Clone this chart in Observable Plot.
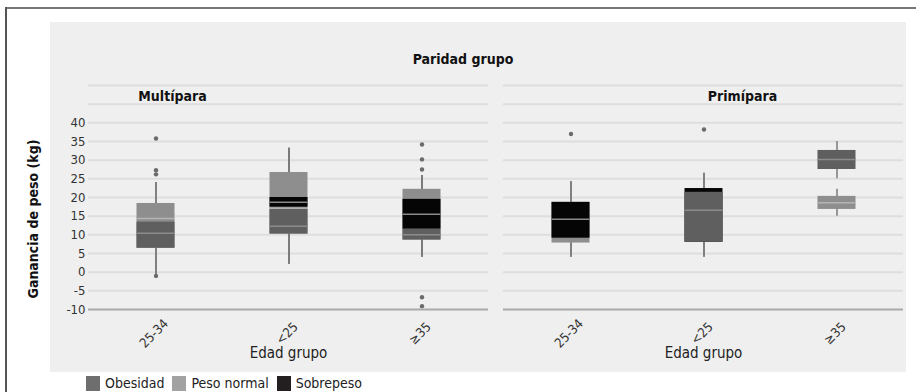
<!DOCTYPE html>
<html>
<head>
<meta charset="utf-8">
<script src="https://cdn.jsdelivr.net/npm/d3@7"></script>
<script src="https://cdn.jsdelivr.net/npm/@observablehq/plot@0.6"></script>
<style>
  html, body { margin: 0; padding: 0; background: #fff; }
  body { font-family: "Liberation Sans Narrow", "DejaVu Sans Condensed", "Roboto", sans-serif; font-stretch: condensed; }
  #wrap { position: relative; width: 916px; height: 392px; overflow: hidden; background: #fff; }
  #topline { position: absolute; left: 6px; top: 7px; width: 910px; height: 2px; background: #777; }
  #leftline { position: absolute; left: 5px; top: 7px; width: 2px; height: 385px; background: #555; }
  #panel { position: absolute; left: 50px; top: 22px; width: 856px; height: 350px; background: #efefef; }
  #chart { position: absolute; left: 0; top: 0; }
  #title { position: absolute; left: 0; width: 926px; top: 51px; text-align: center; font-weight: bold; font-size: 14px; color: #111; }
  #ytitle { position: absolute; left: 33px; top: 219px; transform: translate(-50%, -50%) rotate(-90deg); white-space: nowrap; font-weight: bold; font-size: 14px; color: #111; }
  #legend { position: absolute; left: 86px; top: 375px; display: flex; align-items: center; font-size: 14px; line-height: 16px; color: #222; white-space: nowrap; }
  #legend .item { display: flex; align-items: center; margin-right: 8px; }
  #legend .sw { width: 14px; height: 15px; margin-right: 5px; }
</style>
</head>
<body>
<div id="wrap">
  <div id="topline"></div>
  <div id="leftline"></div>
  <div id="panel"></div>
  <div id="chart"></div>
  <div id="title">Paridad grupo</div>
  <div id="ytitle">Ganancia de peso (kg)</div>
  <div id="legend"></div>
</div>
<script>
// ---- data ----
const panels = ["Multípara", "Primípara"];
const ages = ["25-34", "<25", "≥35"];
const groups = ["Obesidad", "Peso normal", "Sobrepeso"];
const yTicks = [-10, -5, 0, 5, 10, 15, 20, 25, 30, 35, 40];
const gridVals = [-5, 0, 5, 10, 15, 20, 25, 30, 35, 40, 45, 50];

// [panel, age, q1, median, q3, whiskerLow, whiskerHigh]
const pesoNormal = [
  ["Multípara", "25-34", 6.4, 14.4, 18.4, -0.8, 24],
  ["Multípara", "<25", 10.2, 17.1, 26.7, 2.1, 33.2],
  ["Multípara", "≥35", 8.6, 15.5, 22.2, 4, 25.9],
  ["Primípara", "25-34", 7.8, 13.4, 18.7, 4, 24.3],
  ["Primípara", "≥35", 16.8, 18.6, 20.3, 15, 22.2]
];
const sobrepeso = [
  ["Multípara", "<25", 17.4, 18.7, 20, 2.1, 33.2],
  ["Multípara", "≥35", 11.5, 15.5, 19.5, 4, 25.9],
  ["Primípara", "25-34", 9.1, 14.2, 18.7, 4, 24.3],
  ["Primípara", "<25", 8, 17.9, 22.4, 4, 26.5]
];
const obesidad = [
  ["Multípara", "25-34", 6.4, 10.4, 13.4, -0.8, 24],
  ["Multípara", "<25", 10.2, 12.3, 16.8, 2.1, 33.2],
  ["Multípara", "≥35", 8.6, 10, 11.5, 4, 25.9],
  ["Primípara", "<25", 8, 16.6, 21.4, 4, 26.5],
  ["Primípara", "≥35", 27.5, 30.2, 32.6, 25, 35]
];
// [panel, age, value]
const outliers = [
  ["Multípara", "25-34", 35.8], ["Multípara", "25-34", 27.3], ["Multípara", "25-34", 26.2], ["Multípara", "25-34", -1],
  ["Multípara", "≥35", 34.2], ["Multípara", "≥35", 30.2], ["Multípara", "≥35", 27.5], ["Multípara", "≥35", -6.7], ["Multípara", "≥35", -9.1],
  ["Primípara", "25-34", 37], ["Primípara", "<25", 38.2]
];

// ---- styles ----
const FONT = '"Liberation Sans Narrow", "DejaVu Sans Condensed", Roboto, sans-serif';
const fills = {"Obesidad": "#5f5f5f", "Peso normal": "#8e8e8e", "Sobrepeso": "#050505"};
const medStroke = {"Obesidad": "#8c8c8c", "Peso normal": "#b4b4b4", "Sobrepeso": "#8a8a8a"};
const legendFill = {"Obesidad": "#6e6e6e", "Peso normal": "#a2a2a2", "Sobrepeso": "#231f20"};

const toRows = (arr, g) => arr.map(([panel, age, q1, med, q3, lo, hi]) => ({panel, age, q1, med, q3, lo, hi, group: g}));
const series = [
  toRows(pesoNormal, "Peso normal"),
  toRows(sobrepeso, "Sobrepeso"),
  toRows(obesidad, "Obesidad")
];
const allBoxes = series.flat();
const outRows = outliers.map(([panel, age, v]) => ({panel, age, v}));
const tickRows = panels.flatMap(p => ages.map(a => ({panel: p, age: a})));

const inset = 47.5;
const boxMarks = series.flatMap(rows => [
  Plot.barY(rows, {fx: "panel", x: "age", y1: "q1", y2: "q3", fill: d => fills[d.group], insetLeft: inset, insetRight: inset}),
  Plot.tickY(rows, {fx: "panel", x: "age", y: "med", stroke: d => medStroke[d.group], strokeWidth: 1.5, insetLeft: inset, insetRight: inset})
]);

const facetLabel = (p, dx) => Plot.text([p], {fx: d => d, text: d => d, frameAnchor: "top", dy: 6, dx, fontSize: 14, fontWeight: "bold", fill: "#111"});

const chart = Plot.plot({
  width: 916,
  height: 372,
  marginLeft: 87,
  marginRight: 12,
  marginTop: 85,
  marginBottom: 63,
  style: {background: "transparent", fontFamily: FONT, fontSize: "14px", color: "#333", overflow: "visible"},
  fx: {domain: panels, paddingInner: 0.036, paddingOuter: 0, axis: null, label: null},
  x: {domain: ages, padding: 0, axis: null},
  y: {domain: [-10, 50], axis: null},
  marks: [
    Plot.ruleY(gridVals, {stroke: "#dedede", strokeWidth: 2}),
    Plot.ruleY([-10], {stroke: "#aaaaaa", strokeWidth: 2}),
    Plot.axisY(yTicks, {tickSize: 0, tickPadding: 3, fontSize: 13, fill: "#333", label: null, tickFormat: d => String(d)}),
    Plot.ruleX(allBoxes, {fx: "panel", x: "age", y1: "lo", y2: "hi", stroke: "#7a7a7a", strokeWidth: 1.5}),
    ...boxMarks,
    Plot.dot(outRows, {fx: "panel", x: "age", y: "v", r: 2.2, fill: "#6a6a6a", stroke: "none"}),
    Plot.text(tickRows, {fx: "panel", x: "age", text: "age", frameAnchor: "bottom", dy: 27, dx: 1, rotate: -45, fontSize: 13, fill: "#333"}),
    Plot.text(panels, {fx: d => d, text: () => "Edad grupo", frameAnchor: "bottom", dy: 48, fontSize: 15, fill: "#222"}),
    facetLabel(panels[0], -116),
    facetLabel(panels[1], 39)
  ]
});
document.getElementById("chart").appendChild(chart);

// legend
const legend = document.getElementById("legend");
groups.forEach(g => {
  const item = document.createElement("div");
  item.className = "item";
  const sw = document.createElement("div");
  sw.className = "sw";
  sw.style.background = legendFill[g];
  const t = document.createElement("span");
  t.textContent = g;
  item.appendChild(sw); item.appendChild(t);
  legend.appendChild(item);
});
</script>
</body>
</html>
